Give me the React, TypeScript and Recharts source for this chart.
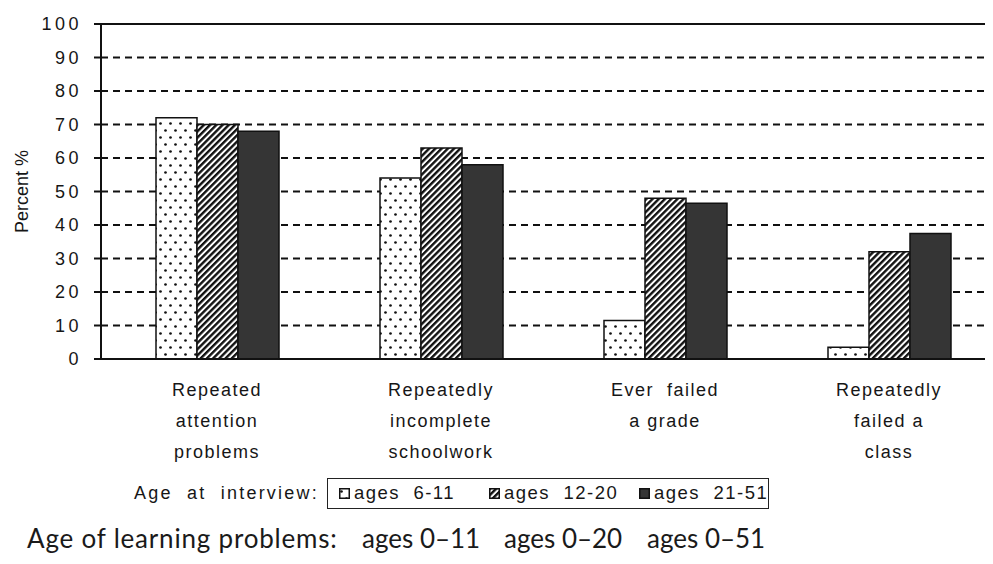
import React from 'react';
import { BarChart, Bar, XAxis, YAxis, CartesianGrid, ReferenceLine } from 'recharts';

// problem categories, one entry per label line
const categoryLines = [
  ['Repeated', 'attention', 'problems'],
  ['Repeatedly', 'incomplete', 'schoolwork'],
  ['Ever  failed', 'a grade'],
  ['Repeatedly', 'failed a', 'class'],
];

// percent by age at interview
const ages6to11 = [72, 54, 11.5, 3.5];
const ages12to20 = [70, 63, 48, 32];
const ages21to51 = [68, 58, 46.5, 37.5];

const yTicks = [0, 10, 20, 30, 40, 50, 60, 70, 80, 90, 100];
const interviewLabels = ['ages  6-11', 'ages  12-20', 'ages  21-51'];
const learningLabels = ['ages 0–11', 'ages 0–20', 'ages 0–51'];
const fills = ['url(#dots)', 'url(#hatch)', '#353535'];

const data = categoryLines.map((lines, i) => ({
  cat: i,
  a: ages6to11[i],
  b: ages12to20[i],
  c: ages21to51[i],
}));

const FONT = '"Liberation Sans", Arial, Helvetica, sans-serif';

const CatTick = (props: any) => {
  const { x, y, payload } = props;
  const lines = categoryLines[payload.value] || [];
  return (
    <text x={x} y={y} textAnchor="middle" fontSize={18} fill="#161616" fontFamily={FONT} style={{ letterSpacing: '1.5px', whiteSpace: 'pre' }}>
      {lines.map((l, i) => (
        <tspan key={i} x={x} dy={i === 0 ? 37 : 31}>{l}</tspan>
      ))}
    </text>
  );
};

const Swatch = ({ fill }: { fill: string }) => (
  <svg width={11} height={11} style={{ display: 'block' }}>
    <rect x={0.75} y={0.75} width={9.5} height={9.5} fill={fill} stroke="#111" strokeWidth={1.5} />
  </svg>
);

const App: React.FC = () => {
  const legendX = [11, 161, 311];
  const learningX = [354, 496, 639];
  return (
    <div style={{ position: 'relative', width: 985, height: 556, overflow: 'hidden', background: '#fff' }}>
      <svg width={0} height={0} style={{ position: 'absolute' }}>
        <defs>
          <pattern id="dots" width={10} height={14} patternUnits="userSpaceOnUse">
            <rect width={10} height={14} fill="#fff" />
            <circle cx={2.5} cy={3.5} r={1.35} fill="#111" />
            <circle cx={7.5} cy={10.5} r={1.35} fill="#111" />
          </pattern>
          <pattern id="hatch" width={4.4} height={4.4} patternUnits="userSpaceOnUse" patternTransform="rotate(45)">
            <rect width={4.4} height={4.4} fill="#fff" />
            <rect width={2.4} height={4.4} fill="#111" />
          </pattern>
        </defs>
      </svg>

      <BarChart
        width={1000}
        height={470}
        data={data}
        margin={{ top: 16, right: 7, left: 0, bottom: 0 }}
        barSize={41}
        barGap={0}
      >
        <CartesianGrid vertical={false} stroke="#111" strokeWidth={2.2} strokeDasharray="7 5" />
        <XAxis
          dataKey="cat"
          type="category"
          interval={0}
          height={119}
          padding={{ left: 4, right: 0 }}
          axisLine={{ stroke: '#111', strokeWidth: 2 }}
          tickLine={false}
          tickSize={0}
          tickMargin={0}
          tick={<CatTick />}
        />
        <YAxis
          type="number"
          domain={[0, 100]}
          ticks={yTicks}
          interval={0}
          width={93}
          axisLine={{ stroke: '#111', strokeWidth: 2 }}
          tickLine={{ stroke: '#111', strokeWidth: 2 }}
          tickSize={7}
          tickMargin={12}
          tick={{ fontSize: 18, fill: '#161616', fontFamily: FONT, style: { letterSpacing: '3.5px' } }}
          label={{ value: 'Percent %', angle: -90, position: 'center', dx: -33, style: { fontSize: 18, fill: '#161616', fontFamily: FONT } }}
        />
        <ReferenceLine y={100} stroke="#111" strokeWidth={2} />
        <Bar dataKey="a" fill={fills[0]} stroke="#111" strokeWidth={1.5} isAnimationActive={false} />
        <Bar dataKey="b" fill={fills[1]} stroke="#111" strokeWidth={1.5} isAnimationActive={false} />
        <Bar dataKey="c" fill={fills[2]} stroke="#111" strokeWidth={1.5} isAnimationActive={false} />
      </BarChart>

      <div style={{ position: 'absolute', left: 126, top: 475, fontFamily: FONT, fontSize: 18, color: '#161616', letterSpacing: '2.2px', whiteSpace: 'pre' }}>
        Age  at  interview:
      </div>
      <div style={{ position: 'absolute', left: 319, top: 470, width: 442, height: 31, border: '1.5px solid #222', boxSizing: 'border-box' }}>
        {interviewLabels.map((t, i) => (
          <div key={t} style={{ position: 'absolute', left: legendX[i], top: 3, display: 'flex', alignItems: 'center', fontFamily: FONT, fontSize: 18.5, color: '#161616', letterSpacing: '1.5px', whiteSpace: 'pre' }}>
            <Swatch fill={fills[i]} />
            <span style={{ marginLeft: 4 }}>{t}</span>
          </div>
        ))}
      </div>

      <div style={{ position: 'absolute', left: 19, top: 514, fontFamily: 'Lato, sans-serif', fontSize: 26, color: '#1a1a1a', letterSpacing: '0.8px', whiteSpace: 'pre' }}>
        Age of learning problems:
      </div>
      {learningLabels.map((t, i) => (
        <div key={t} style={{ position: 'absolute', left: learningX[i], top: 514, fontFamily: 'Lato, sans-serif', fontSize: 26, color: '#1a1a1a', whiteSpace: 'pre' }}>
          {t}
        </div>
      ))}
    </div>
  );
};

export default App;
